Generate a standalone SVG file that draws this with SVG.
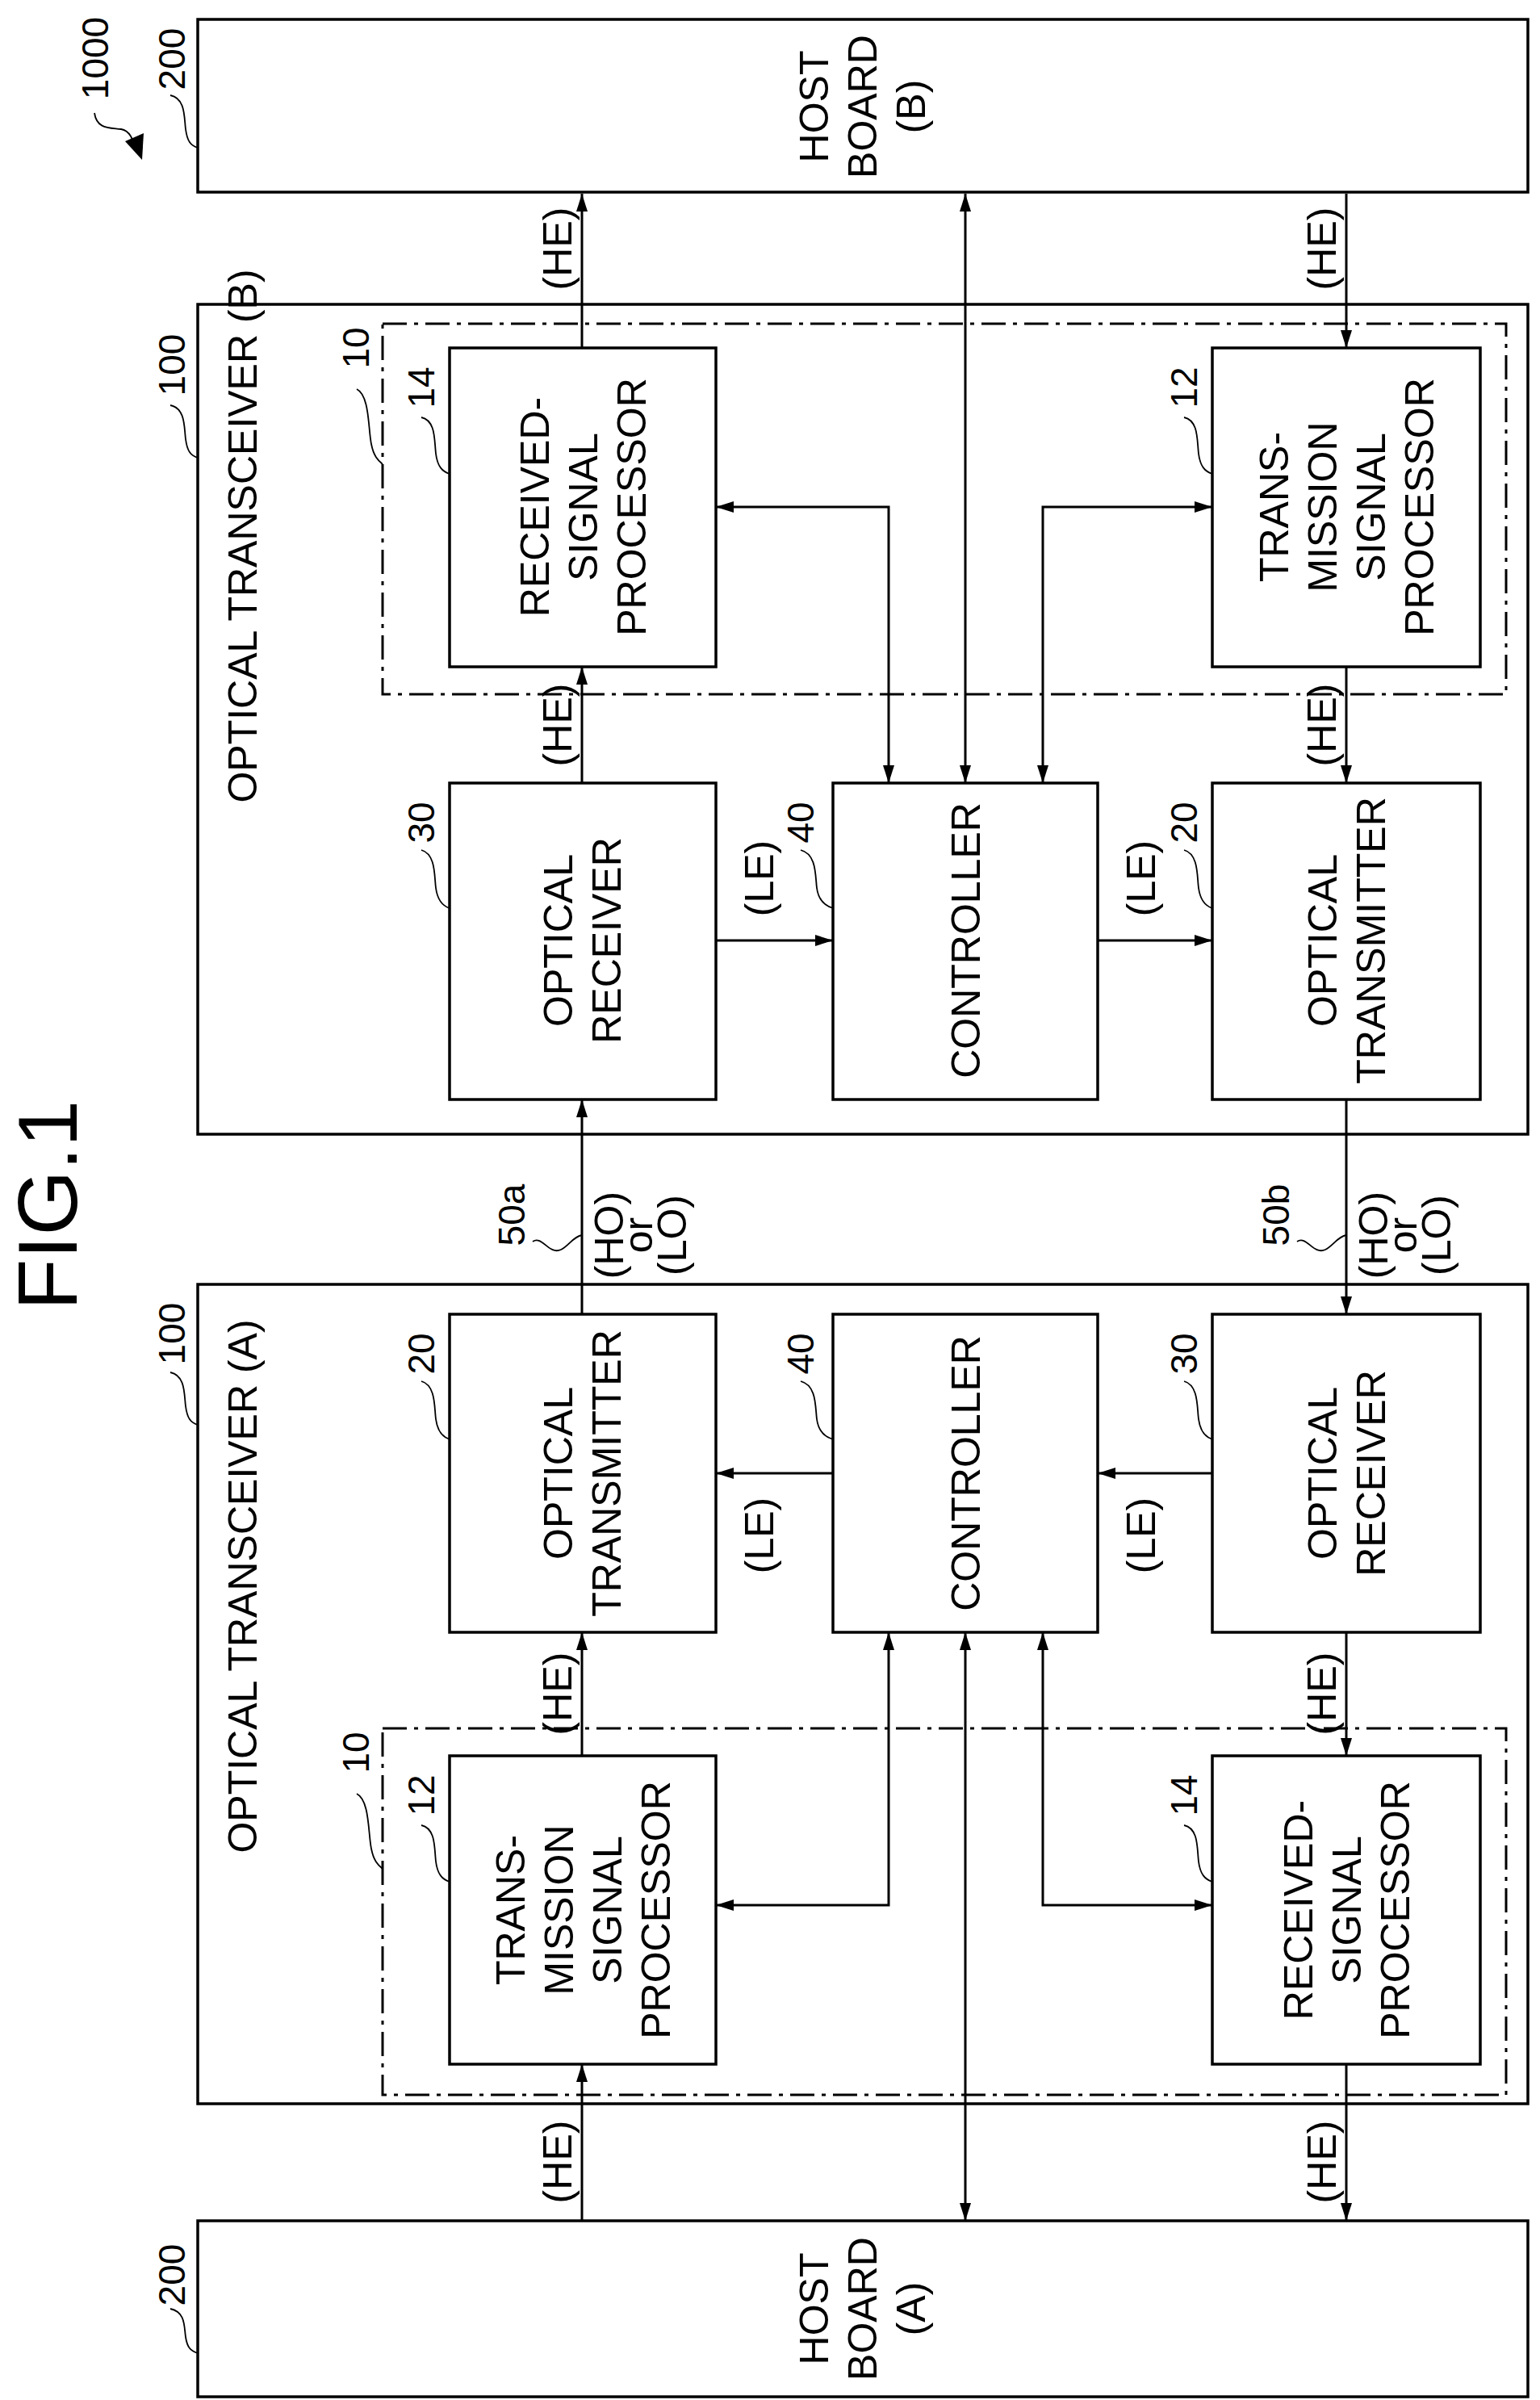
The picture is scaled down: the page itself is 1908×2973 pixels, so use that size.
<svg xmlns="http://www.w3.org/2000/svg" width="1908" height="2973" viewBox="0 0 1908 2973">
<style>
.box{fill:none;stroke:#000;stroke-width:3.5}
.dash{fill:none;stroke:#000;stroke-width:3;stroke-dasharray:30 9 5 9}
.ln{fill:none;stroke:#000;stroke-width:3}
.ld{fill:none;stroke:#000;stroke-width:1.8}
text{font-family:"Liberation Sans",Arial,sans-serif;font-size:50px;fill:#000;text-anchor:middle}
.num{font-size:46px}
.fig{font-size:104px}
</style>
<defs>
<marker id="a" markerUnits="userSpaceOnUse" markerWidth="22" markerHeight="14" refX="22" refY="7" orient="auto-start-reverse"><path d="M0,0 L22,7 L0,14 z" fill="#000"/></marker>
</defs>
<rect width="1908" height="2973" fill="#fff"/>
<text class="fig" transform="translate(95,1493) rotate(-90)">FIG.1</text>
<g id="ref1000"><text class="num" transform="translate(134,72) rotate(-90)">1000</text><path class="ld" d="M117 140 C120 160,135 158,150 160 C162 162,165 175,168 185" /><path d="M176 198 L155 175 L178 165 z" fill="#000"/></g>
<g id="hostB"><rect class="box" x="245" y="24" width="1648" height="214"/><text transform="translate(1068,132) rotate(-90)"><tspan x="0" y="-42">HOST</tspan><tspan x="0" y="18">BOARD</tspan><tspan x="0" y="78">(B)</tspan></text><text class="num" transform="translate(229,73) rotate(-90)">200</text><path class="ld" d="M211 118 C230 122,228 145,230 160 C232 175,236 180,245 183"/></g>
<g id="transB"><rect class="box" x="245" y="377" width="1648" height="1028"/><text transform="translate(318,664) rotate(-90)">OPTICAL TRANSCEIVER (B)</text><text class="num" transform="translate(229,452) rotate(-90)">100</text><path class="ld" d="M211 502 C230 506,228 529,230 544 C232 559,236 564,245 567"/></g>
<g id="grpB"><rect class="dash" x="474" y="401" width="1392" height="459"/><text class="num" transform="translate(457,431) rotate(-90)">10</text><path class="ld" d="M442 482 C458 490,456 530,460 550 C463 565,468 570,474 575"/></g>
<g id="rxB"><rect class="box" x="557" y="431" width="330" height="395"/><text transform="translate(722,628) rotate(-90)"><tspan x="0" y="-42">RECEIVED-</tspan><tspan x="0" y="18">SIGNAL</tspan><tspan x="0" y="78">PROCESSOR</tspan></text><text class="num" transform="translate(538,480) rotate(-90)">14</text><path class="ld" d="M522 517 C540 521,538 545,540 562 C542 578,548 584,557 587"/></g>
<g id="txpB"><rect class="box" x="1502" y="431" width="332" height="395"/><text transform="translate(1668,628) rotate(-90)"><tspan x="0" y="-72">TRANS-</tspan><tspan x="0" y="-12">MISSION</tspan><tspan x="0" y="48">SIGNAL</tspan><tspan x="0" y="108">PROCESSOR</tspan></text><text class="num" transform="translate(1483,480) rotate(-90)">12</text><path class="ld" d="M1467 517 C1485 521,1483 545,1485 562 C1487 578,1493 584,1502 587"/></g>
<g id="orB"><rect class="box" x="557" y="970" width="330" height="392"/><text transform="translate(721,1165) rotate(-90)"><tspan x="0" y="-12">OPTICAL</tspan><tspan x="0" y="48">RECEIVER</tspan></text><text class="num" transform="translate(538,1019) rotate(-90)">30</text><path class="ld" d="M522 1053 C540 1058,538 1085,540 1100 C542 1115,548 1122,557 1125"/></g>
<g id="ctlB"><rect class="box" x="1032" y="970" width="328" height="392"/><text transform="translate(1196,1165) rotate(-90)"><tspan x="0" y="18">CONTROLLER</tspan></text><text class="num" transform="translate(1008,1019) rotate(-90)">40</text><path class="ld" d="M992 1053 C1012 1058,1010 1085,1012 1100 C1014 1115,1022 1122,1032 1125"/></g>
<g id="otB"><rect class="box" x="1502" y="970" width="332" height="392"/><text transform="translate(1668,1165) rotate(-90)"><tspan x="0" y="-12">OPTICAL</tspan><tspan x="0" y="48">TRANSMITTER</tspan></text><text class="num" transform="translate(1483,1019) rotate(-90)">20</text><path class="ld" d="M1467 1053 C1485 1058,1483 1085,1485 1100 C1487 1115,1493 1122,1502 1125"/></g>
<g id="transA"><rect class="box" x="245" y="1591" width="1648" height="1015"/><text transform="translate(318,1965) rotate(-90)">OPTICAL TRANSCEIVER (A)</text><text class="num" transform="translate(229,1652) rotate(-90)">100</text><path class="ld" d="M211 1700 C230 1704,228 1727,230 1742 C232 1757,236 1762,245 1765"/></g>
<g id="grpA"><rect class="dash" x="474" y="2141" width="1392" height="454"/><text class="num" transform="translate(457,2171) rotate(-90)">10</text><path class="ld" d="M442 2222 C458 2230,456 2270,460 2290 C463 2305,468 2310,474 2315"/></g>
<g id="otA"><rect class="box" x="557" y="1628" width="330" height="394"/><text transform="translate(721,1825) rotate(-90)"><tspan x="0" y="-12">OPTICAL</tspan><tspan x="0" y="48">TRANSMITTER</tspan></text><text class="num" transform="translate(538,1677) rotate(-90)">20</text><path class="ld" d="M522 1711 C540 1716,538 1743,540 1758 C542 1773,548 1780,557 1783"/></g>
<g id="ctlA"><rect class="box" x="1032" y="1628" width="328" height="394"/><text transform="translate(1196,1825) rotate(-90)"><tspan x="0" y="18">CONTROLLER</tspan></text><text class="num" transform="translate(1008,1677) rotate(-90)">40</text><path class="ld" d="M992 1711 C1012 1716,1010 1743,1012 1758 C1014 1773,1022 1780,1032 1783"/></g>
<g id="orA"><rect class="box" x="1502" y="1628" width="332" height="394"/><text transform="translate(1668,1825) rotate(-90)"><tspan x="0" y="-12">OPTICAL</tspan><tspan x="0" y="48">RECEIVER</tspan></text><text class="num" transform="translate(1483,1677) rotate(-90)">30</text><path class="ld" d="M1467 1711 C1485 1716,1483 1743,1485 1758 C1487 1773,1493 1780,1502 1783"/></g>
<g id="txpA"><rect class="box" x="557" y="2175" width="330" height="382"/><text transform="translate(722,2366) rotate(-90)"><tspan x="0" y="-72">TRANS-</tspan><tspan x="0" y="-12">MISSION</tspan><tspan x="0" y="48">SIGNAL</tspan><tspan x="0" y="108">PROCESSOR</tspan></text><text class="num" transform="translate(538,2224) rotate(-90)">12</text><path class="ld" d="M522 2261 C540 2265,538 2289,540 2306 C542 2322,548 2328,557 2331"/></g>
<g id="rxA"><rect class="box" x="1502" y="2175" width="332" height="382"/><text transform="translate(1668,2366) rotate(-90)"><tspan x="0" y="-42">RECEIVED-</tspan><tspan x="0" y="18">SIGNAL</tspan><tspan x="0" y="78">PROCESSOR</tspan></text><text class="num" transform="translate(1483,2224) rotate(-90)">14</text><path class="ld" d="M1467 2261 C1485 2265,1483 2289,1485 2306 C1487 2322,1493 2328,1502 2331"/></g>
<g id="hostA"><rect class="box" x="245" y="2751" width="1648" height="218"/><text transform="translate(1068,2860) rotate(-90)"><tspan x="0" y="-42">HOST</tspan><tspan x="0" y="18">BOARD</tspan><tspan x="0" y="78">(A)</tspan></text><text class="num" transform="translate(229,2818) rotate(-90)">200</text><path class="ld" d="M211 2860 C230 2864,228 2882,230 2895 C232 2908,236 2912,245 2915"/></g>
<g id="connectors">
<path class="ln" d="M721 431 V240" marker-end="url(#a)"/>
<path class="ln" d="M1196 240 V970" marker-start="url(#a)" marker-end="url(#a)"/>
<path class="ln" d="M1668 240 V431" marker-end="url(#a)"/>
<path class="ln" d="M721 970 V826" marker-end="url(#a)"/>
<path class="ln" d="M1668 826 V970" marker-end="url(#a)"/>
<path class="ln" d="M887 1165 H1032" marker-end="url(#a)"/>
<path class="ln" d="M1360 1165 H1502" marker-end="url(#a)"/>
<path class="ln" d="M887 628 H1101 V970" marker-start="url(#a)" marker-end="url(#a)"/>
<path class="ln" d="M1292 970 V628 H1502" marker-start="url(#a)" marker-end="url(#a)"/>
<path class="ln" d="M721 1628 V1362" marker-end="url(#a)"/>
<path class="ln" d="M1668 1362 V1628" marker-end="url(#a)"/>
<path class="ln" d="M721 2175 V2022" marker-end="url(#a)"/>
<path class="ln" d="M721 2751 V2557" marker-end="url(#a)"/>
<path class="ln" d="M1196 2022 V2751" marker-start="url(#a)" marker-end="url(#a)"/>
<path class="ln" d="M1668 2022 V2175" marker-end="url(#a)"/>
<path class="ln" d="M1668 2557 V2751" marker-end="url(#a)"/>
<path class="ln" d="M1032 1825 H887" marker-end="url(#a)"/>
<path class="ln" d="M1502 1825 H1360" marker-end="url(#a)"/>
<path class="ln" d="M1101 2022 V2360 H887" marker-start="url(#a)" marker-end="url(#a)"/>
<path class="ln" d="M1292 2022 V2360 H1502" marker-start="url(#a)" marker-end="url(#a)"/>
<path class="ld" d="M660 1538 C672 1530,680 1555,695 1548 C705 1543,710 1532,721 1530"/>
<path class="ld" d="M1607 1538 C1619 1530,1627 1555,1642 1548 C1652 1543,1657 1532,1668 1530"/>
</g>
<g id="labels">
<text transform="translate(708,308) rotate(-90)">(HE)</text>
<text transform="translate(1655,308) rotate(-90)">(HE)</text>
<text transform="translate(708,898) rotate(-90)">(HE)</text>
<text transform="translate(1655,898) rotate(-90)">(HE)</text>
<text transform="translate(958,1088) rotate(-90)">(LE)</text>
<text transform="translate(1431,1088) rotate(-90)">(LE)</text>
<text transform="translate(958,1902) rotate(-90)">(LE)</text>
<text transform="translate(1431,1902) rotate(-90)">(LE)</text>
<text transform="translate(708,2098) rotate(-90)">(HE)</text>
<text transform="translate(1655,2098) rotate(-90)">(HE)</text>
<text transform="translate(708,2678) rotate(-90)">(HE)</text>
<text transform="translate(1655,2678) rotate(-90)">(HE)</text>
<text class="num" transform="translate(650,1505) rotate(-90)">50a</text>
<text transform="translate(752,1530) rotate(-90)"><tspan x="0" y="20">(HO)</tspan><tspan x="0" y="56">or</tspan><tspan x="0" y="98">(LO)</tspan></text>
<text class="num" transform="translate(1597,1505) rotate(-90)">50b</text>
<text transform="translate(1699,1530) rotate(-90)"><tspan x="0" y="20">(HO)</tspan><tspan x="0" y="56">or</tspan><tspan x="0" y="98">(LO)</tspan></text>
</g>
</svg>
